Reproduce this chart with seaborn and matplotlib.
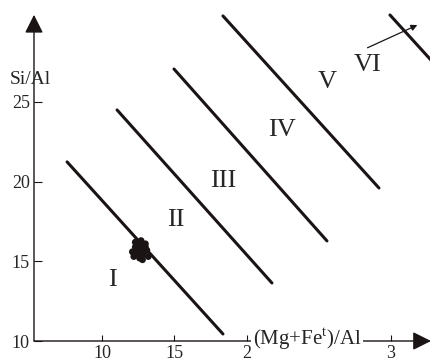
import pandas as pd
import matplotlib
matplotlib.use('Agg')
import matplotlib.pyplot as plt
import seaborn as sns

# boundary lines (start / end in data units)
line_ids = ['I', 'I', 'II', 'II', 'III', 'III', 'IV', 'IV', 'VI', 'VI']
line_x = [7.58, 18.37, 11.04, 21.76, 14.98, 25.57, 18.37, 29.17, 29.93, 33.5]
line_y = [21.24, 10.44, 24.50, 13.64, 27.07, 16.28, 30.40, 19.60, 30.46, 26.9]

# field labels
field_names = ['I', 'II', 'III', 'IV', 'V', 'VI']
field_x = [10.69, 15.12, 18.37, 22.46, 25.57, 28.41]
field_y = [13.83, 17.60, 20.04, 23.25, 26.26, 27.33]

# sample cluster
pts_x = [12.1, 12.3, 12.5, 12.7, 12.9, 13.1, 12.2, 12.4, 12.6, 12.8,
         13.0, 13.2, 12.3, 12.6, 12.9, 12.5, 12.7, 13.0, 12.2, 12.8]
pts_y = [15.6, 15.9, 16.1, 15.8, 16.0, 15.7, 15.3, 15.5, 15.2, 15.4,
         15.9, 15.3, 16.2, 15.6, 15.6, 15.8, 16.3, 16.1, 15.5, 15.1]

xticks = [10, 15, 20, 30]
xtick_labels = ['10', '15', '2', '3']
yticks = [10, 15, 20, 25]

sns.set_style('white')
plt.rcParams['font.family'] = ['Liberation Serif', 'DejaVu Serif']
plt.rcParams['mathtext.fontset'] = 'custom'
plt.rcParams['mathtext.rm'] = 'Liberation Serif'

lines_df = pd.DataFrame({'id': line_ids, 'x': line_x, 'y': line_y})
pts_df = pd.DataFrame({'x': pts_x, 'y': pts_y})

fig = plt.figure(figsize=(4.31, 3.62), dpi=100)
ax = fig.add_axes([34 / 431, 21 / 362, 397 / 431, 341 / 362])

sns.lineplot(data=lines_df, x='x', y='y', units='id', estimator=None, sort=False,
             color='#1a1414', lw=2.2, ax=ax)
sns.scatterplot(data=pts_df, x='x', y='y', color='#1a1414', s=24, edgecolor='none', ax=ax)

for name, fx, fy in zip(field_names, field_x, field_y):
    ax.text(fx, fy, name, fontsize=19, ha='center', va='center')

ax.annotate('', xy=(32.0, 29.9), xytext=(28.2, 28.33),
            arrowprops=dict(arrowstyle='-|>', lw=0.9, color='#1a1414', mutation_scale=9))

xmin, xmax = 5.29, 32.77
ymin, ymax = 10, 31.4
ax.set_xlim(xmin, xmax)
ax.set_ylim(ymin, ymax)
for s in ax.spines.values():
    s.set_visible(False)

# axis arrows
ax.annotate('', xy=(xmin, 30.47), xytext=(xmin, 10),
            arrowprops=dict(arrowstyle='-|>', lw=1.0, color='#1a1414', mutation_scale=28,
                            shrinkA=0, shrinkB=0), annotation_clip=False)
ax.annotate('', xy=(xmax, 10), xytext=(xmin, 10),
            arrowprops=dict(arrowstyle='-|>', lw=1.0, color='#1a1414', mutation_scale=28,
                            shrinkA=0, shrinkB=0), annotation_clip=False)

ax.set_xticks(xticks)
ax.set_xticklabels(xtick_labels)
ax.set_yticks(yticks)
ax.tick_params(axis='y', direction='in', length=6, width=0.8, pad=3, labelsize=13,
               left=True, color='#1a1414')
ax.tick_params(axis='x', direction='in', length=4, width=0.8, pad=3, labelsize=13,
               bottom=True, color='#1a1414')
ax.set_xlabel('')
ax.set_ylabel('')

ax.text(24.2, 10.15, r'(Mg+Fe$^{\mathrm{t}}$)/Al', fontsize=15, ha='center', va='center',
        bbox=dict(facecolor='white', edgecolor='none', pad=1), zorder=5)
ax.text(5.02, 26.4, 'Si/Al', fontsize=14, ha='center', va='center', clip_on=False)

fig.savefig('out.png', dpi=100)
